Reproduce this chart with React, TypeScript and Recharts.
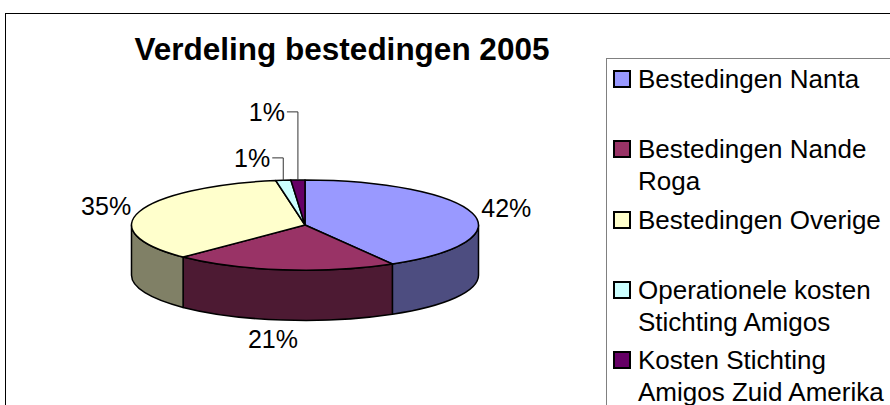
import { PieChart, Pie, Legend } from 'recharts';

const CATEGORIES = [
  'Bestedingen Nanta',
  'Bestedingen Nande Roga',
  'Bestedingen Overige',
  'Operationele kosten Stichting Amigos',
  'Kosten Stichting Amigos Zuid Amerika',
];
const SHARES = [41.6, 20.8, 34.9, 1.4, 1.3];
const LEGEND_LINES = [
  ['Bestedingen Nanta'],
  ['Bestedingen Nande', 'Roga'],
  ['Bestedingen Overige'],
  ['Operationele kosten', 'Stichting Amigos'],
  ['Kosten Stichting', 'Amigos Zuid Amerika'],
];
const TOP_COLORS = ['#9999FF', '#993366', '#FFFFCC', '#CCFFFF', '#660066'];
const SIDE_COLORS = ['#4D4D80', '#4D1A33', '#808066', '#668080', '#330033'];

const FONT = '"Liberation Sans", Arial, sans-serif';
const TILT = 0.26; // ry / rx
const DEPTH = 0.29; // side height / rx

const data = CATEGORIES.map((name, i) => ({
  name,
  value: SHARES[i],
  fill: TOP_COLORS[i],
  side: SIDE_COLORS[i],
}));

const rad = (d: number) => (d * Math.PI) / 180;

// flat sector -> tilted slice with its outer wall
function Slice3D(props: any) {
  const { cx, cy, outerRadius, startAngle, endAngle, fill } = props;
  const side = props.side ?? props.payload?.side ?? '#666';
  const rx = outerRadius;
  const ry = outerRadius * TILT;
  const d = outerRadius * DEPTH;
  const pt = (a: number, dy = 0) => `${cx + rx * Math.cos(rad(a))},${cy - ry * Math.sin(rad(a)) + dy}`;

  const large = Math.abs(startAngle - endAngle) > 180 ? 1 : 0;
  const top = `M${cx},${cy} L${pt(startAngle)} A${rx},${ry} 0 ${large} 1 ${pt(endAngle)} Z`;

  const a1 = Math.min(startAngle, 0);
  const a2 = Math.max(endAngle, -180);
  let wall = null;
  if (a1 > a2) {
    const p = `M${pt(a1)} A${rx},${ry} 0 0 1 ${pt(a2)} L${pt(a2, d)} A${rx},${ry} 0 0 0 ${pt(a1, d)} Z`;
    wall = <path d={p} fill={side} stroke="#000" strokeWidth={1.5} strokeLinejoin="round" />;
  }
  return (
    <g>
      {wall}
      <path d={top} fill={fill} stroke="#000" strokeWidth={1.5} strokeLinejoin="round" />
    </g>
  );
}

function renderLabel(props: any) {
  const { cx, cy, outerRadius, midAngle, percent, index } = props;
  const rx = outerRadius;
  const ry = outerRadius * TILT;
  const a = rad(midAngle);
  const text = `${Math.round(percent * 100)}%`;
  const px = cx + rx * Math.cos(a);
  let py = cy - ry * Math.sin(a);

  if (percent < 0.02) {
    const firstSmall = SHARES.findIndex((v) => v / 100 < 0.02);
    const k = index - firstSmall;
    const ly = cy - ry - 22 - 46 * k;
    return (
      <g key={`lbl-${index}`}>
        <polyline points={`${px},${py} ${px},${ly} ${px - 11},${ly}`} fill="none" stroke="#333" strokeWidth={1} />
        <text x={px - 13} y={ly + 9} textAnchor="end" fontSize={25} fontFamily={FONT} fill="#000">
          {text}
        </text>
      </g>
    );
  }

  py += outerRadius * DEPTH * Math.max(0, -Math.sin(a));
  const x = px + 35 * Math.cos(a) - 6 * Math.max(0, -Math.sin(a));
  const y = py - 19 * Math.sin(a);
  return (
    <text key={`lbl-${index}`} x={x} y={y + 9} textAnchor="middle" fontSize={25} fontFamily={FONT} fill="#000">
      {text}
    </text>
  );
}

const LEGEND_FIRST = 78 - 58; // first row centre inside the box
const LEGEND_STEP = 70.3;
const LINE_H = 32;

function LegendBox() {
  return (
    <div style={{ position: 'relative', width: '100%', height: '100%', fontFamily: FONT, fontSize: 26 }}>
      {LEGEND_LINES.map((lines, i) => (
        <div
          key={i}
          style={{ position: 'absolute', left: 6, top: LEGEND_FIRST + i * LEGEND_STEP - LINE_H / 2 }}
        >
          <div
            style={{
              position: 'absolute',
              left: 0,
              top: LINE_H / 2 - 9,
              width: 14,
              height: 14,
              background: TOP_COLORS[i],
              border: '2px solid #000',
            }}
          />
          <div style={{ marginLeft: 25, lineHeight: `${LINE_H}px`, whiteSpace: 'nowrap', color: '#000' }}>
            {lines.map((l, j) => (
              <div key={j}>{l}</div>
            ))}
          </div>
        </div>
      ))}
    </div>
  );
}

export default function App() {
  return (
    <div style={{ position: 'absolute', left: 0, top: 0, width: 890, height: 405, overflow: 'hidden', background: '#fff' }}>
      <div
        style={{
          position: 'absolute',
          left: 5,
          top: 13,
          width: 920,
          height: 420,
          border: '1.5px solid #000',
        }}
      />
      <div
        style={{
          position: 'absolute',
          left: 42,
          top: 34,
          width: 600,
          textAlign: 'center',
          whiteSpace: 'nowrap',
          fontFamily: FONT,
          fontWeight: 'bold',
          fontSize: 31.5,
          lineHeight: '31px',
          color: '#000',
        }}
      >
        Verdeling bestedingen 2005
      </div>
      <div style={{ position: 'absolute', left: 0, top: 0 }}>
        <PieChart width={890} height={405} margin={{ top: 0, right: 0, bottom: 0, left: 0 }}>
          <Pie
            data={data}
            dataKey="value"
            nameKey="name"
            cx={305}
            cy={225}
            outerRadius={173.5}
            startAngle={90}
            endAngle={-270}
            stroke="#000"
            labelLine={false}
            label={renderLabel}
            shape={Slice3D}
            isAnimationActive={false}
          />
          <Legend
            content={() => <LegendBox />}
            wrapperStyle={{
              left: 606,
              top: 58,
              width: 320,
              height: 380,
              border: '1.5px solid #808080',
              background: '#fff',
            }}
          />
        </PieChart>
      </div>
    </div>
  );
}
